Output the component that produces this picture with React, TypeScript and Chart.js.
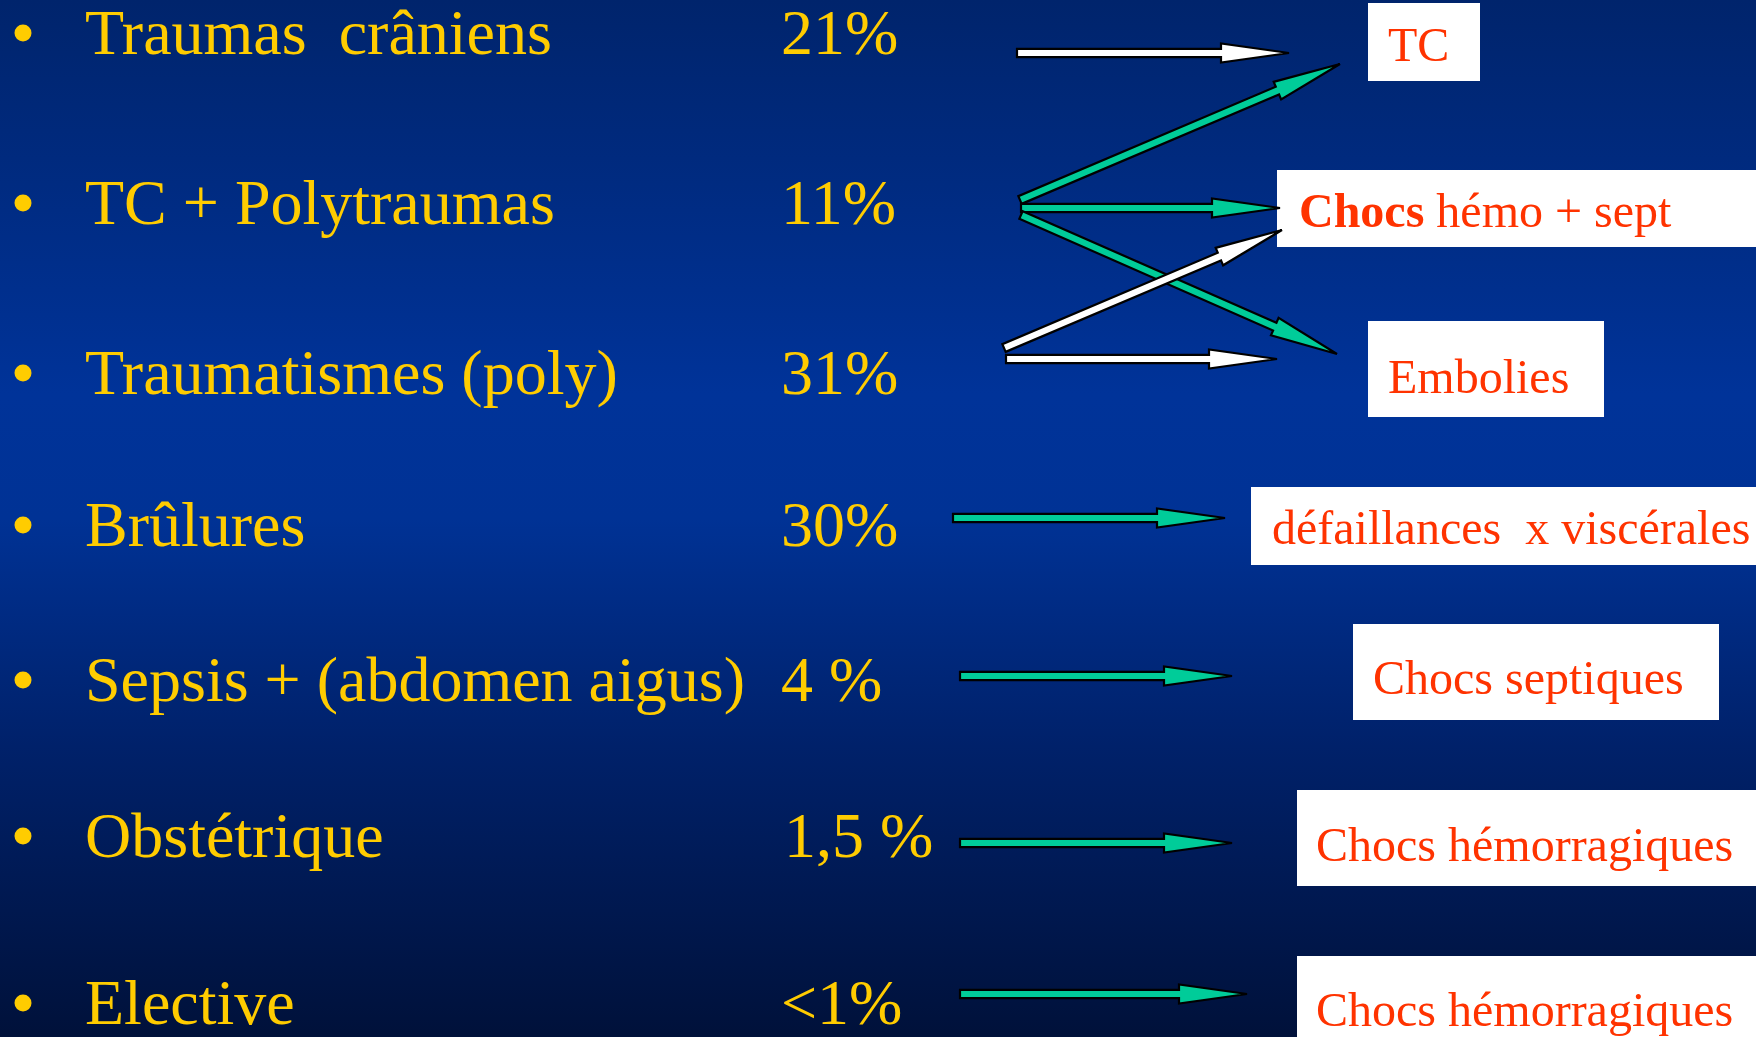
import React, { useEffect, useRef } from 'react';
import { Chart, registerables } from 'chart.js';

Chart.register(...registerables);

const SLIDE_W = 1756;
const SLIDE_H = 1037;

// Left column: causes and their share
const categories = [
  'Traumas  crâniens',
  'TC + Polytraumas',
  'Traumatismes (poly)',
  'Brûlures',
  'Sepsis + (abdomen aigus)',
  'Obstétrique',
  'Elective',
];
const percentLabels = ['21%', '11%', '31%', '30%', '4 %', '1,5 %', '<1%'];
const rowBaselineY = [54, 224, 394, 546, 701, 857, 1024];
const percentX = [781, 781, 781, 781, 781, 784, 781];
const bulletX = 23;
const bulletOffsetY = 21;
const labelX = 85;

// Right column: outcome boxes
const outcomeBold = ['', 'Chocs', '', '', '', '', ''];
const outcomeText = [
  'TC',
  ' hémo + sept',
  'Embolies',
  'défaillances  x viscérales',
  'Chocs septiques',
  'Chocs hémorragiques',
  'Chocs hémorragiques',
];
const boxX0 = [1368, 1277, 1368, 1251, 1353, 1297, 1297];
const boxY0 = [3, 170, 321, 487, 624, 790, 956];
const boxX1 = [1480, 1756, 1604, 1756, 1719, 1756, 1756];
const boxY1 = [81, 247, 417, 565, 720, 886, 1037];
const outcomeTextX = [1388, 1299, 1388, 1272, 1373, 1316, 1316];
const outcomeBaselineY = [61, 227, 393, 544, 694, 861, 1026];

// Arrows
const arrowX0 = [1017, 1020, 1021, 1021, 1004, 1006, 953, 960, 960, 960];
const arrowY0 = [53, 200, 208, 215, 348, 359, 518, 676, 843, 994];
const arrowX1 = [1289, 1340, 1280, 1337, 1282, 1277, 1225, 1232, 1232, 1247];
const arrowY1 = [53, 64, 208, 354, 230, 359, 518, 676, 843, 994];
const arrowColor = ['#ffffff', '#00cc99', '#00cc99', '#00cc99', '#ffffff', '#ffffff', '#00cc99', '#00cc99', '#00cc99', '#00cc99'];

const YELLOW = '#ffcc00';
const RED = '#ff3300';
const SERIF = '"Liberation Serif", "Times New Roman", serif';

function drawArrow(ctx: CanvasRenderingContext2D, x0: number, y0: number, x1: number, y1: number, fill: string) {
  const dx = x1 - x0;
  const dy = y1 - y0;
  const len = Math.hypot(dx, dy);
  const ux = dx / len;
  const uy = dy / len;
  const nx = -uy;
  const ny = ux;
  const hl = 68;
  const hw = 9.5;
  const sw = 4.2;
  const bx = x1 - ux * hl;
  const by = y1 - uy * hl;
  ctx.beginPath();
  ctx.moveTo(x0 + nx * sw, y0 + ny * sw);
  ctx.lineTo(bx + nx * sw, by + ny * sw);
  ctx.lineTo(bx + nx * hw, by + ny * hw);
  ctx.lineTo(x1, y1);
  ctx.lineTo(bx - nx * hw, by - ny * hw);
  ctx.lineTo(bx - nx * sw, by - ny * sw);
  ctx.lineTo(x0 - nx * sw, y0 - ny * sw);
  ctx.closePath();
  ctx.fillStyle = fill;
  ctx.fill();
  ctx.lineWidth = 2.2;
  ctx.miterLimit = 3;
  ctx.lineJoin = 'miter';
  ctx.strokeStyle = '#000000';
  ctx.stroke();
}

const slidePlugin = {
  id: 'slide',
  beforeDraw(chart: any) {
    const { ctx, width, height } = chart;
    const g = ctx.createLinearGradient(0, 0, 0, height);
    g.addColorStop(0, '#00246c');
    g.addColorStop(0.38, '#003399');
    g.addColorStop(0.5, '#003295');
    g.addColorStop(0.72, '#00216a');
    g.addColorStop(1, '#00113a');
    ctx.save();
    ctx.fillStyle = g;
    ctx.fillRect(0, 0, width, height);
    ctx.restore();
  },
  beforeDatasetsDraw(chart: any) {
    const { ctx } = chart;
    const xs = chart.scales.x;
    const ys = chart.scales.y;
    ctx.save();
    ctx.fillStyle = '#ffffff';
    for (let i = 0; i < boxX0.length; i++) {
      const l = xs.getPixelForValue(boxX0[i]);
      const r = xs.getPixelForValue(boxX1[i]);
      const t = ys.getPixelForValue(boxY0[i]);
      const b = ys.getPixelForValue(boxY1[i]);
      ctx.fillRect(l, t, r - l, b - t);
    }
    ctx.restore();
  },
  afterDatasetsDraw(chart: any) {
    const { ctx } = chart;
    const xs = chart.scales.x;
    const ys = chart.scales.y;
    ctx.save();
    for (let i = 0; i < arrowX0.length; i++) {
      const meta = chart.getDatasetMeta(i + 1);
      const p0 = meta.data[0];
      const p1 = meta.data[1];
      drawArrow(ctx, p0.x, p0.y, p1.x, p1.y, arrowColor[i]);
    }
    ctx.textBaseline = 'alphabetic';
    ctx.textAlign = 'left';
    ctx.fillStyle = YELLOW;
    ctx.font = `64px ${SERIF}`;
    for (let i = 0; i < categories.length; i++) {
      const y = ys.getPixelForValue(rowBaselineY[i]);
      ctx.fillText(categories[i], xs.getPixelForValue(labelX), y);
      ctx.fillText(percentLabels[i], xs.getPixelForValue(percentX[i]), y);
    }
    ctx.fillStyle = RED;
    for (let i = 0; i < outcomeText.length; i++) {
      let x = xs.getPixelForValue(outcomeTextX[i]);
      const y = ys.getPixelForValue(outcomeBaselineY[i]);
      if (outcomeBold[i]) {
        ctx.font = `bold 48px ${SERIF}`;
        ctx.fillText(outcomeBold[i], x, y);
        x += ctx.measureText(outcomeBold[i]).width;
      }
      ctx.font = `48px ${SERIF}`;
      ctx.fillText(outcomeText[i], x, y);
    }
    ctx.restore();
  },
};

export default function App() {
  const canvasRef = useRef<HTMLCanvasElement | null>(null);

  useEffect(() => {
    document.body.style.margin = '0';
    document.body.style.overflow = 'hidden';
    const canvas = canvasRef.current;
    if (!canvas) return;

    const arrowDatasets = arrowX0.map((_, i) => ({
      type: 'scatter' as const,
      label: `arrow${i}`,
      data: [
        { x: arrowX0[i], y: arrowY0[i] },
        { x: arrowX1[i], y: arrowY1[i] },
      ],
      pointRadius: 0,
      borderWidth: 0,
      showLine: false,
    }));

    const chart = new Chart(canvas, {
      type: 'scatter',
      data: {
        datasets: [
          {
            label: 'bullets',
            data: rowBaselineY.map((y) => ({ x: bulletX, y: y - bulletOffsetY })),
            pointRadius: 8.5,
            pointBackgroundColor: YELLOW,
            pointBorderWidth: 0,
            borderWidth: 0,
          },
          ...arrowDatasets,
        ],
      },
      options: {
        animation: false,
        responsive: true,
        maintainAspectRatio: false,
        events: [],
        layout: { padding: 0, autoPadding: false },
        plugins: {
          legend: { display: false },
          tooltip: { enabled: false },
        },
        scales: {
          x: { type: 'linear', min: 0, max: SLIDE_W, display: false },
          y: { type: 'linear', min: 0, max: SLIDE_H, reverse: true, display: false },
        },
      },
      plugins: [slidePlugin],
    });

    return () => chart.destroy();
  }, []);

  return (
    <div style={{ position: 'fixed', left: 0, top: 0, width: '100vw', height: '100vh' }}>
      <canvas ref={canvasRef} />
    </div>
  );
}
